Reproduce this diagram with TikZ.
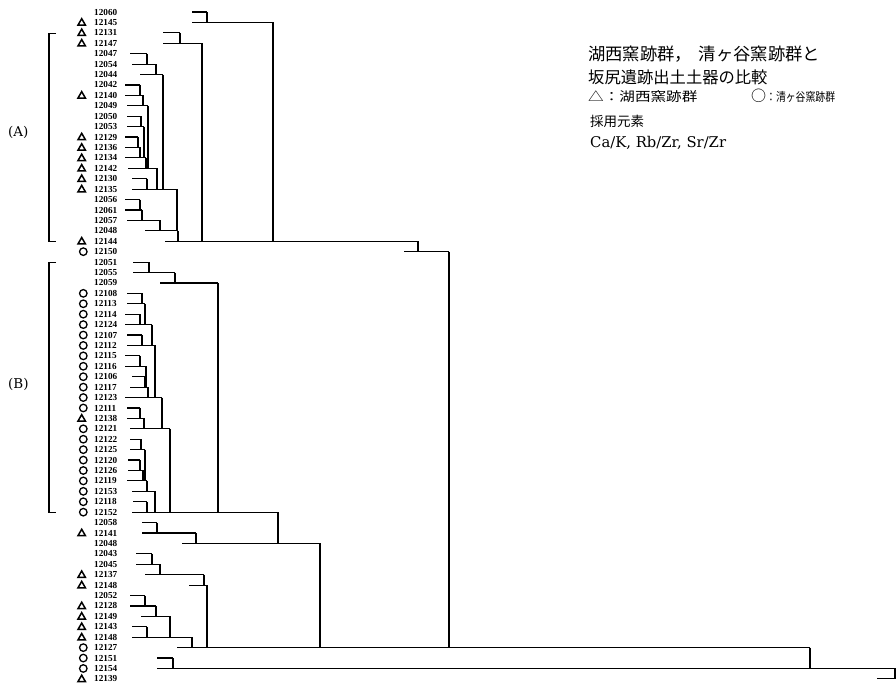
\documentclass[tikz,border=0pt]{standalone}
\usepackage{fontspec}
\setmainfont{Liberation Serif}
\newfontfamily\jp{Noto Sans CJK JP}
\newfontfamily\dvs{DejaVu Serif}
\usetikzlibrary{shapes.geometric}
\tikzset{
  dl/.style={line width=1.15pt},
  br/.style={line width=1.1pt},
  lbl/.style={anchor=west, inner sep=0pt, font=\fontsize{9.2}{9.2}\selectfont\bfseries},
  tri/.style={regular polygon, regular polygon sides=3, minimum size=8.5pt, inner sep=0pt, draw, line width=1.5pt},
  circ/.style={circle, minimum size=7.5pt, inner sep=0pt, draw, line width=1.3pt},
  jptxt/.style={anchor=base west, inner sep=0pt},
  grp/.style={anchor=west, inner sep=0pt, font=\dvs\fontsize{13.5}{13.5}\selectfont},
}
\begin{document}
\begin{tikzpicture}[x=1pt,y=-1pt]
\useasboundingbox (0,0) rectangle (896,689);
\begin{scope}[y=-10.42pt, yshift=-12pt]
% leaf labels
\foreach \i/\t in {0/12060,1/12145,2/12131,3/12147,4/12047,5/12054,6/12044,7/12042,8/12140,9/12049,
  10/12050,11/12053,12/12129,13/12136,14/12134,15/12142,16/12130,17/12135,18/12056,19/12061,
  20/12057,21/12048,22/12144,23/12150,24/12051,25/12055,26/12059,27/12108,28/12113,29/12114,
  30/12124,31/12107,32/12112,33/12115,34/12116,35/12106,36/12117,37/12123,38/12111,39/12138,
  40/12121,41/12122,42/12125,43/12120,44/12126,45/12119,46/12153,47/12118,48/12152,49/12058,
  50/12141,51/12048,52/12043,53/12045,54/12137,55/12148,56/12052,57/12128,58/12149,59/12143,
  60/12148,61/12127,62/12151,63/12154,64/12139}
  \node[lbl] (l\i) at (94,\i) {\t};
% markers
\foreach \i in {1,2,3,8,12,13,14,15,16,17,22,39,50,54,55,57,58,59,60,64}
  \node[tri] (m\i) at (81.7,\i+0.05) {};
\foreach \i in {23,27,28,29,30,31,32,33,34,35,36,37,38,40,41,42,43,44,45,46,47,48,61,62,63}
  \node[circ] (m\i) at (83.3,\i) {};
% horizontal segments of the dendrogram
\foreach \i/\s/\e in {0/192/207, 1/192/273, 2/163/180, 3/163/202, 4/130/147, 5/132/156, 6/140/163,
  7/125/140, 8/125/143, 9/127/148, 10/127/141, 11/127/144, 12/125/138, 13/125/140, 14/125/146,
  15/128/157, 16/132/147, 17/132/177, 18/125/140, 19/125/142, 20/127/160, 21/145/178, 22/165/418,
  23/404/449, 24/133/149, 25/133/175, 26/160/218, 27/127/142, 28/127/145, 29/125/140, 30/125/152,
  31/127/142, 32/127/155, 33/125/140, 34/125/146, 35/132/145, 36/130/148, 37/125/162, 38/127/140,
  39/127/144, 40/130/170, 41/130/141, 42/130/145, 43/128/140, 44/128/143, 45/127/147, 46/132/155,
  47/133/147, 48/132/278, 49/142/157, 50/142/196, 51/182/320, 52/136/152, 53/136/160, 54/145/204,
  55/189/207, 56/130/145, 57/130/156, 58/141/170, 59/132/147, 60/132/192, 61/177/810, 62/157/173,
  63/157/900, 64/877/900}
  \draw[dl] (\s,\i) -- (\e,\i);
% vertical joins
\foreach \x/\a/\b in {207/0/1, 273/1/22, 180/2/3, 202/3/22, 147/4/5, 156/5/6, 163/6/17, 140/7/8,
  143/8/9, 148/9/15, 141/10/11, 144/11/14, 138/12/13, 140/13/14, 146/14/15, 157/15/17, 147/16/17,
  177/17/21, 140/18/19, 142/19/20, 160/20/21, 178/21/22, 418/22/23, 449/23/61, 149/24/25,
  175/25/26, 218/26/48, 142/27/28, 145/28/30, 140/29/30, 152/30/32, 142/31/32, 155/32/37,
  140/33/34, 146/34/36, 145/35/36, 148/36/37, 162/37/40, 140/38/39, 144/39/40, 170/40/48,
  141/41/42, 145/42/45, 140/43/44, 143/44/45, 147/45/46, 155/46/48, 147/47/48, 278/48/51,
  157/49/50, 196/50/51, 320/51/61, 152/52/53, 160/53/54, 204/54/55, 207/55/61, 145/56/57,
  156/57/58, 170/58/60, 147/59/60, 192/60/61, 810/61/63, 173/62/63, 895/63/64}
  \draw[dl] (\x,\a) -- (\x,\b);
% group brackets
\draw[br] (56,2.1) -- (49,2.1) -- (49,22) -- (56,22);
\draw[br] (56,24) -- (49,24) -- (49,48) -- (56,48);
\end{scope}
\node[grp] (ga) at (8,132) {(A)};
\node[grp] (gb) at (8,384) {(B)};
% title block
\node[jptxt, font=\jp\fontsize{17.3}{17.3}\selectfont] (h1) at (588,60) {湖西窯跡群，\hspace{7pt}清ヶ谷窯跡群と};
\node[jptxt, font=\jp\fontsize{16.3}{16.3}\selectfont] (h2) at (588,83) {坂尻遺跡出土土器の比較};
\node[jptxt, font=\jp\fontsize{13}{13}\selectfont] (h3a) at (588,101) {\scalebox{1.2}[1]{△：湖西窯跡群}};
\node[jptxt, font=\jp\fontsize{12}{12}\selectfont] (h3b) at (751,101) {{\fontsize{15}{15}\selectfont ○}\scalebox{0.82}[1]{：清ヶ谷窯跡群}};
\node[jptxt, font=\jp\fontsize{13.5}{13.5}\selectfont] (h4) at (590,126) {採用元素};
\node[jptxt, font=\dvs\fontsize{14.8}{14.8}\selectfont] (h5) at (590,147) {Ca/K, Rb/Zr, Sr/Zr};
\end{tikzpicture}
\end{document}
